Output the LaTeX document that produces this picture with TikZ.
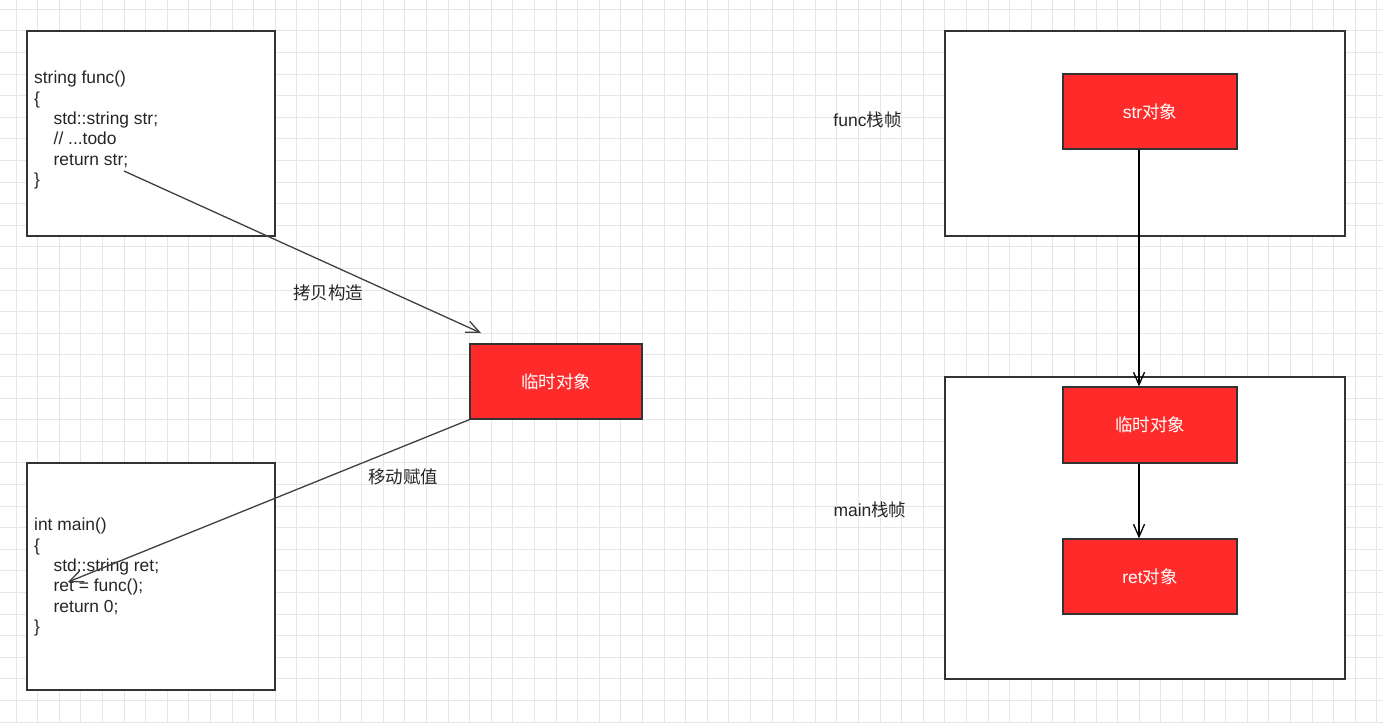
\documentclass[tikz,border=0pt]{standalone}
\usepackage{fontspec}
\setmainfont{Liberation Sans}
\newfontfamily\cjk{Noto Sans CJK SC}
\usetikzlibrary{arrows.meta}
\definecolor{objred}{HTML}{FF2A2A}
\definecolor{gridgray}{HTML}{E6E6E6}
\definecolor{edgegray}{HTML}{404040}
\newcommand{\zh}[1]{{\cjk #1}}

\begin{document}
\begin{tikzpicture}[x=1pt,y=-1pt,
  gridline/.style={draw=gridgray,line width=1pt},
  framebox/.style={draw=black!80,line width=1.3pt,fill=white,inner sep=0pt},
  objbox/.style={draw=black!80,line width=1.3pt,fill=objred,text=white,
    font=\fontsize{17.5}{21}\selectfont,minimum width=174,minimum height=75,inner sep=0pt},
  code/.style={font=\fontsize{17.4}{20.3}\selectfont,align=left,inner sep=0pt,text=black!85},
  lbl/.style={font=\fontsize{17.5}{21}\selectfont,text=black!85,inner sep=0pt},
  link/.style={draw=edgegray,line width=1.3pt,-{Straight Barb[length=13.5pt,width=12pt]}},
  flow/.style={draw=black,line width=1.3pt,-{Straight Barb[length=12.5pt,width=11pt]}}
]
  % Page and grid
  \useasboundingbox (0,0) rectangle (1383,723);
  \fill[white] (0,0) rectangle (1383,723);
  \def\gstep{21.6}
  \foreach \k in {0,...,63} {
    \draw[gridline] ({16+\gstep*\k},0) -- ({16+\gstep*\k},723);
  }
  \foreach \k in {0,...,33} {
    \draw[gridline] (0,{9.3+\gstep*\k}) -- (1383,{9.3+\gstep*\k});
  }
  % Left: the two code boxes
  \node[framebox,minimum width=248,minimum height=205] (fnbox) at (151,133.5) {};
  \node[code,anchor=north west] (fncode) at (34,71) {string func()\\\{\\
    \hspace*{19.5pt}std::string str;\\\hspace*{19.5pt}// ...todo\\
    \hspace*{19.5pt}return str;\\\}};
  \node[framebox,minimum width=248,minimum height=227] (mainbox) at (151,576.5) {};
  \node[code,anchor=north west] (maincode) at (34,518) {int main()\\\{\\
    \hspace*{19.5pt}std::string ret;\\\hspace*{19.5pt}ret = func();\\
    \hspace*{19.5pt}return 0;\\\}};
  % Left: temporary object
  \node[objbox,minimum width=172] (tmp) at (556,381.5) {\zh{临时对象}};
  % Copy and move
  \coordinate (copyfrom) at (124,171);
  \coordinate (copyto) at (481,333);
  \draw[link] (copyfrom) -- (copyto);
  \node[lbl] (copylbl) at (328,293) {\zh{拷贝构造}};
  \coordinate (moveto) at (68,582);
  \draw[link] (tmp.south west) -- (moveto);
  \node[lbl] (movelbl) at (403,477) {\zh{移动赋值}};
  % Right: stack frames
  \node[framebox,minimum width=400,minimum height=205] (fnframe) at (1145,133.5) {};
  \node[lbl] (fnlbl) at (867.5,120) {func\zh{栈帧}};
  \node[framebox,minimum width=400,minimum height=302] (mainframe) at (1145,528) {};
  \node[lbl] (mainlbl) at (870,510) {main\zh{栈帧}};
  \node[objbox] (str) at (1150,111.5) {str\zh{对象}};
  \node[objbox,minimum height=76] (tmpR) at (1150,425) {\zh{临时对象}};
  \node[objbox] (ret) at (1150,576.5) {ret\zh{对象}};
  % Flow between objects
  \draw[flow] ([xshift=-11pt]str.south) -- ([xshift=-11pt]tmpR.north);
  \draw[flow] ([xshift=-11pt]tmpR.south) -- ([xshift=-11pt]ret.north);
\end{tikzpicture}
\end{document}
